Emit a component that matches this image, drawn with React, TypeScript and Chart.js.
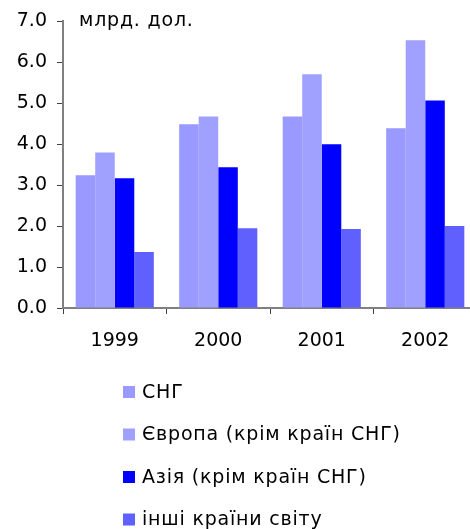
import React, { useEffect, useRef } from "react";
import { Chart, registerables } from "chart.js";

Chart.register(...registerables);

const categories = ["1999", "2000", "2001", "2002"];
const seriesLabels = [
  "СНГ",
  "Європа (крім країн СНГ)",
  "Азія (крім країн СНГ)",
  "інші країни світу",
];
const cisValues = [3.24, 4.49, 4.68, 4.39];
const europeValues = [3.8, 4.68, 5.71, 6.54];
const asiaValues = [3.17, 3.44, 4.0, 5.07];
const otherValues = [1.37, 1.95, 1.93, 2.0];
const seriesColors = ["#9999FF", "#A0A0FF", "#0000FF", "#6060FF"];
const yTicks = [0, 1, 2, 3, 4, 5, 6, 7];
const unitLabel = "млрд. дол.";

const FONT = "'DejaVu Sans', Verdana, sans-serif";

const customLegend = {
  id: "customLegend",
  afterDraw(chart: any) {
    const ctx = chart.ctx;
    ctx.save();
    ctx.font = `19px ${FONT}`;
    (ctx as any).letterSpacing = "0.8px";
    ctx.textBaseline = "middle";
    ctx.textAlign = "left";
    chart.data.datasets.forEach((ds: any, i: number) => {
      const cy = 392 + i * 42.5;
      ctx.fillStyle = ds.backgroundColor;
      ctx.fillRect(123, cy - 6, 12, 12);
      ctx.fillStyle = "#000000";
      ctx.fillText(ds.label, 142, cy + 1);
    });
    ctx.fillText(unitLabel, chart.chartArea.left + 16, 21);
    ctx.restore();
  },
};

export default function App() {
  const ref = useRef<HTMLCanvasElement>(null);
  useEffect(() => {
    document.body.style.margin = "0";
    const chart = new Chart(ref.current!, {
      type: "bar",
      data: {
        labels: categories,
        datasets: [cisValues, europeValues, asiaValues, otherValues].map((d, i) => ({
          label: seriesLabels[i],
          data: d,
          backgroundColor: seriesColors[i],
          borderWidth: 0,
          categoryPercentage: 0.755,
          barPercentage: 1.0,
        })),
      },
      options: {
        responsive: false,
        animation: false,
        layout: { padding: { left: 13, top: 21, right: 0, bottom: 179 } },
        plugins: { legend: { display: false }, tooltip: { enabled: false } },
        scales: {
          x: {
            grid: {
              offset: true,
              drawOnChartArea: false,
              drawTicks: true,
              tickLength: 6,
              color: "#404040",
            },
            border: { color: "#808080", width: 2 },
            ticks: { color: "#000", font: { family: FONT, size: 19 }, padding: 16 },
            afterFit: (s: any) => {
              s.height = 42;
            },
          },
          y: {
            min: 0,
            max: 7,
            afterBuildTicks: (s: any) => {
              s.ticks = yTicks.map((v) => ({ value: v }));
            },
            grid: {
              drawOnChartArea: false,
              drawTicks: true,
              tickLength: 6,
              color: "#404040",
            },
            border: { color: "#808080", width: 2 },
            ticks: {
              color: "#000",
              font: { family: FONT, size: 19 },
              padding: 10,
              callback: (v: any) => Number(v).toFixed(1),
            },
            afterFit: (s: any) => {
              s.width = 50;
            },
          },
        },
      },
      plugins: [customLegend],
    });
    return () => chart.destroy();
  }, []);
  return (
    <div
      style={{
        position: "absolute",
        left: 0,
        top: 0,
        width: 470,
        height: 529,
        overflow: "hidden",
      }}
    >
      <canvas ref={ref} width={477} height={529} style={{ display: "block" }} />
    </div>
  );
}
